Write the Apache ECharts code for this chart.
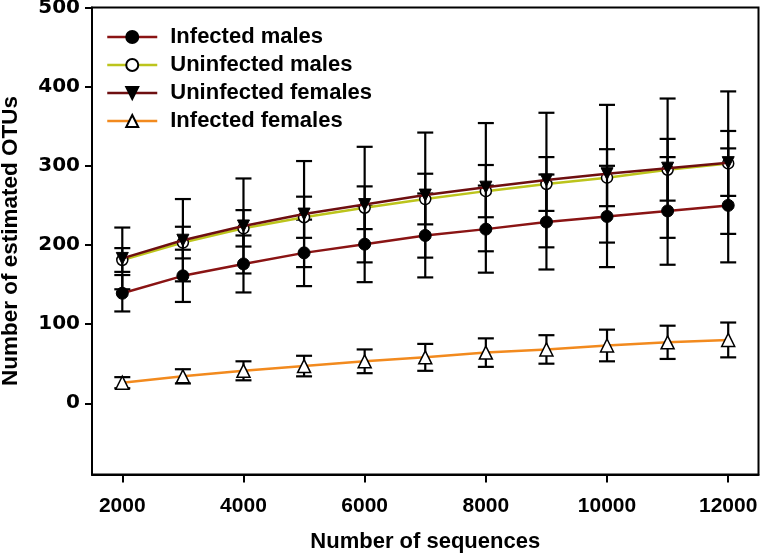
<!DOCTYPE html>
<html>
<head>
<meta charset="utf-8">
<script src="https://cdn.jsdelivr.net/npm/echarts@6/dist/echarts.min.js"></script>
<style>
html,body{margin:0;padding:0;background:#fff;}
#chart{width:760px;height:559px;}
</style>
</head>
<body>
<div id="chart"></div>
<script>
// ---- data ----
const sequences = [2000, 3000, 4000, 5000, 6000, 7000, 8000, 9000, 10000, 11000, 12000];

const infectedMales       = [139, 161, 176, 190, 201, 212, 220, 229, 236, 243, 250];
const infectedMalesErr    = [23, 33, 36, 42, 48, 53, 55, 60, 64, 68, 72];

const uninfectedMales     = [181, 203, 221, 235, 247, 258, 268, 277, 285, 295, 303];
const uninfectedMalesErr  = [15, 20, 23, 26, 27, 32, 33, 34, 36, 39, 41];

const uninfectedFemales   = [183, 206, 224, 239, 251, 263, 273, 282, 290, 297, 304];
const uninfectedFemalesErr= [39, 52, 60, 67, 73, 79, 81, 85, 87, 88, 90];

const infectedFemales     = [26, 34, 41, 47, 53, 58, 64, 68, 73, 77, 80];
const infectedFemalesErr  = [7, 9, 12, 13, 15, 17, 18, 18, 20, 21, 22];

const yTicks = [0, 100, 200, 300, 400, 500];
const xTicks = [2000, 4000, 6000, 8000, 10000, 12000];

const seriesNames = ['Infected males', 'Uninfected males', 'Uninfected females', 'Infected females'];

// ---- chart ----
const chart = echarts.init(document.getElementById('chart'), null, {renderer: 'canvas'});

function pairs(vals) { return sequences.map((x, i) => [x, vals[i]]); }
function errData(vals, errs) { return sequences.map((x, i) => [x, vals[i] - errs[i], vals[i] + errs[i]]); }

function errorBar(params, api) {
  const x = api.value(0);
  const lo = api.coord([x, api.value(1)]);
  const hi = api.coord([x, api.value(2)]);
  const hw = 8;
  const st = {stroke: '#000', lineWidth: 2.2};
  return {
    type: 'group',
    children: [
      {type: 'line', shape: {x1: lo[0], y1: lo[1], x2: hi[0], y2: hi[1]}, style: st},
      {type: 'line', shape: {x1: lo[0] - hw, y1: lo[1], x2: lo[0] + hw, y2: lo[1]}, style: st},
      {type: 'line', shape: {x1: hi[0] - hw, y1: hi[1], x2: hi[0] + hw, y2: hi[1]}, style: st}
    ]
  };
}

function errSeries(vals, errs, z) {
  return {
    type: 'custom', renderItem: errorBar, data: errData(vals, errs),
    z: z, silent: true, encode: {x: 0, y: [1, 2]}
  };
}

const labelFont = '"Liberation Sans", Arial, sans-serif';

const option = {
  animation: false,
  backgroundColor: '#fff',
  grid: {
    left: 92, right: 1.5, top: 7.5, bottom: 84.5,
    containLabel: false, outerBoundsMode: 'none',
    show: true, borderColor: '#000', borderWidth: 2, backgroundColor: 'transparent'
  },
  legend: {
    data: seriesNames,
    orient: 'vertical',
    left: 106, top: 26, padding: 0,
    itemWidth: 50, itemHeight: 15, itemGap: 6,
    lineStyle: {width: 2.5},
    textStyle: {
      color: '#000', fontWeight: 'bold', fontSize: 22, fontFamily: labelFont,
      lineHeight: 22, padding: [0, 0, 0, 8]
    }
  },
  xAxis: {
    type: 'value', min: 1500, max: 12500,
    name: 'Number of sequences', nameLocation: 'middle', nameGap: 56,
    nameTextStyle: {color: '#000', fontWeight: 'bold', fontSize: 22, fontFamily: labelFont},
    axisLine: {show: true, onZero: false, lineStyle: {color: '#000', width: 2}},
    axisTick: {show: true, length: 8, lineStyle: {color: '#000', width: 2}, customValues: xTicks},
    axisLabel: {
      color: '#000', fontWeight: 'bold', fontSize: 21, fontFamily: labelFont, margin: 21,
      customValues: xTicks, formatter: v => String(v)
    },
    splitLine: {show: false}
  },
  yAxis: {
    type: 'value', min: -90, max: 500,
    name: 'Number of estimated OTUs', nameLocation: 'middle', nameGap: 70,
    nameTextStyle: {color: '#000', fontWeight: 'bold', fontSize: 22.5, fontFamily: labelFont},
    axisLine: {show: true, onZero: false, lineStyle: {color: '#000', width: 2}},
    axisTick: {show: true, length: 7, lineStyle: {color: '#000', width: 2}, customValues: yTicks},
    axisLabel: {
      color: '#000', fontWeight: 'bold', fontSize: 20, fontFamily: '"DejaVu Sans", sans-serif', margin: 12,
      customValues: yTicks, formatter: v => String(v)
    },
    splitLine: {show: false}
  },
  series: [
    errSeries(infectedMales, infectedMalesErr, 1),
    {
      name: seriesNames[0], type: 'line', data: pairs(infectedMales), z: 2,
      symbol: 'circle', symbolSize: 12,
      lineStyle: {color: '#8a1414', width: 2.5},
      itemStyle: {color: '#000', borderColor: '#000', borderWidth: 1}
    },
    errSeries(uninfectedMales, uninfectedMalesErr, 3),
    {
      name: seriesNames[1], type: 'line', data: pairs(uninfectedMales), z: 4,
      symbol: 'circle', symbolSize: 11,
      lineStyle: {color: '#bcc41c', width: 2.5},
      itemStyle: {color: '#fff', borderColor: '#000', borderWidth: 1.5}
    },
    errSeries(uninfectedFemales, uninfectedFemalesErr, 5),
    {
      name: seriesNames[2], type: 'line', data: pairs(uninfectedFemales), z: 6,
      symbol: 'triangle', symbolRotate: 180, symbolSize: 12,
      lineStyle: {color: '#6e0f10', width: 2.5},
      itemStyle: {color: '#000', borderColor: '#000', borderWidth: 1}
    },
    errSeries(infectedFemales, infectedFemalesErr, 7),
    {
      name: seriesNames[3], type: 'line', data: pairs(infectedFemales), z: 8,
      symbol: 'triangle', symbolSize: 13,
      lineStyle: {color: '#f28a1e', width: 2.5},
      itemStyle: {color: '#fff', borderColor: '#000', borderWidth: 1.5}
    }
  ]
};

chart.setOption(option);
</script>
</body>
</html>
